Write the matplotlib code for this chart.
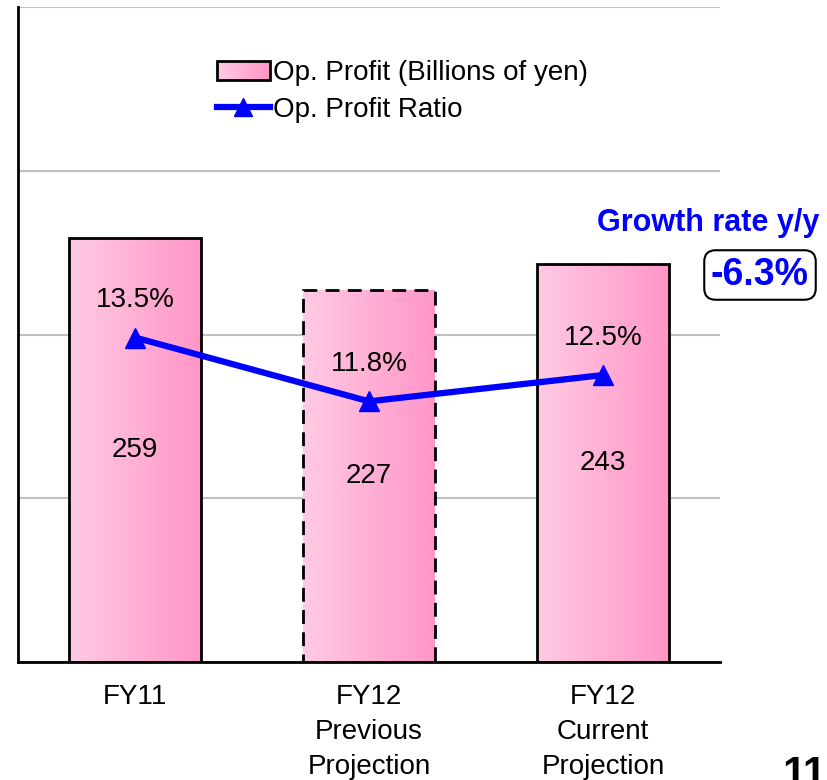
import numpy as np
import matplotlib
matplotlib.use("Agg")
import matplotlib.pyplot as plt
from matplotlib.patches import Rectangle
from matplotlib.lines import Line2D
from matplotlib.legend_handler import HandlerBase
from matplotlib.colors import LinearSegmentedColormap

plt.rcParams['font.family'] = ['Liberation Sans', 'DejaVu Sans']

# data
categories = ["FY11", "FY12\nPrevious\nProjection", "FY12\nCurrent\nProjection"]
op_profit = [259, 227, 243]
op_ratio = [13.5, 11.8, 12.5]
ratio_labels = ["13.5%", "11.8%", "12.5%"]
growth_rate = "-6.3%"
page_no = "11"

pink = LinearSegmentedColormap.from_list("pink", ["#FFCAE3", "#FF96C8"])
grad = np.linspace(0, 1, 256).reshape(1, -1)


class GradientPatchHandler(HandlerBase):
    # legend box drawn as thin slices so the gradient shows
    def create_artists(self, legend, orig_handle, xdescent, ydescent,
                       width, height, fontsize, trans):
        arts = []
        n = 30
        for i in range(n):
            r = Rectangle((-xdescent + width * i / n, -ydescent), width / n + 0.3, height,
                          facecolor=pink(i / (n - 1)), edgecolor="none", transform=trans)
            arts.append(r)
        arts.append(Rectangle((-xdescent, -ydescent), width, height, facecolor="none",
                              edgecolor="black", lw=2, transform=trans))
        return arts


fig = plt.figure(figsize=(8.28, 7.8), dpi=100)
ax = fig.add_axes([18 / 828, 1 - 662 / 780, 702 / 828, 655 / 780])
x = np.arange(len(categories))

bars = ax.bar(x, op_profit, width=0.56, facecolor="none", edgecolor="black", lw=2, zorder=3)
bars[1].set_linestyle((0, (5, 3)))
for b in bars:
    bx, by = b.get_x(), b.get_y()
    im = ax.imshow(grad, cmap=pink, aspect="auto", zorder=2,
                   extent=[bx, bx + b.get_width(), by, by + b.get_height()])
    im.set_clip_path(b)
for xi, v in zip(x, op_profit):
    ax.text(xi, v / 2, str(v), ha="center", va="center", fontsize=20, zorder=5)

ax.set_xlim(-0.5, 2.5)
ax.set_ylim(0, 400)
ax.set_yticks([0, 100, 200, 300, 400])
ax.yaxis.grid(True, color="#C0C0C0", lw=1.5)
ax.set_axisbelow(True)
ax.set_xticks(x)
ax.set_xticklabels(categories, linespacing=1.45, va="top")
for s in ["top", "right"]:
    ax.spines[s].set_visible(False)
ax.spines["left"].set_linewidth(2)
ax.spines["bottom"].set_linewidth(2)

ax2 = ax.twinx()
ax2.plot(x, op_ratio, color="#0000FF", lw=4.5, marker="^", ms=15, zorder=6)
ax2.set_ylim(4.86, 22.3)
ax2.axis("off")
for xi, v, lab in zip(x, op_ratio, ratio_labels):
    ax2.annotate(lab, (xi, v), xytext=(0, 27), textcoords="offset points",
                 ha="center", va="center", fontsize=20)

# twinx turns the left ticks back on, so hide them here
ax.tick_params(axis="y", left=False, right=False, labelleft=False)
ax.tick_params(axis="x", length=0, pad=16, labelsize=20)

h1 = Rectangle((0, 0), 1, 1)
h2 = Line2D([], [], color="#0000FF", lw=4.5, marker="^", ms=13)
fig.legend([h1, h2], ["Op. Profit (Billions of yen)", "Op. Profit Ratio"],
           handler_map={Rectangle: GradientPatchHandler()},
           loc="upper left", bbox_to_anchor=(192 / 828, 1 - 35 / 780),
           frameon=False, fontsize=20, handlelength=1.9, handletextpad=0.1,
           labelspacing=0.4)

fig.text(819 / 828, 1 - 223 / 780, "Growth rate y/y", color="#0000FF", fontsize=22,
         fontweight="bold", ha="right", va="center")
fig.text(760 / 828, 1 - 275 / 780, growth_rate, color="#0000FF", fontsize=27,
         fontweight="bold", ha="center", va="center",
         bbox=dict(boxstyle="round,pad=0.18,rounding_size=0.3", facecolor="white",
                   edgecolor="black", lw=1.5))
fig.text(782 / 828, 1 - 755 / 780, page_no, fontsize=30, fontweight="bold",
         ha="left", va="top")

fig.savefig("out.png", dpi=100)
